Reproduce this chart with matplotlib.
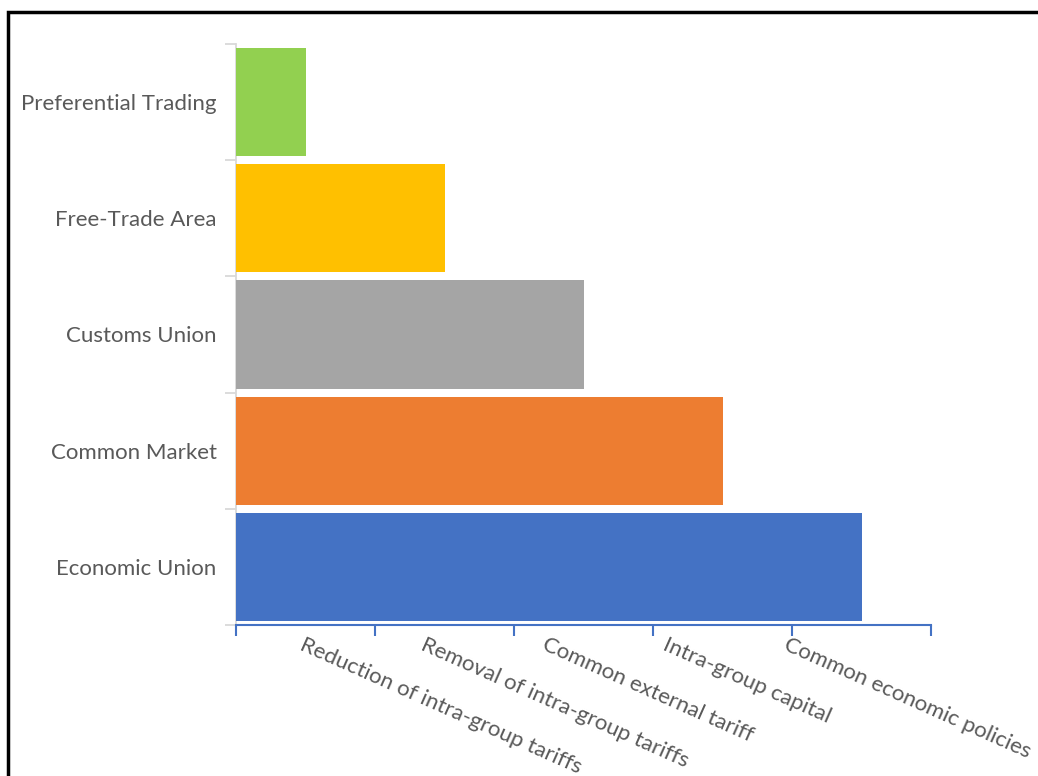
import matplotlib
matplotlib.use("Agg")
import matplotlib.pyplot as plt
from matplotlib.patches import Rectangle
import numpy as np

categories = ["Preferential Trading", "Free-Trade Area", "Customs Union", "Common Market", "Economic Union"]
values = [0.5, 1.5, 2.5, 3.5, 4.5]
colors = ["#92D050", "#FFC000", "#A5A5A5", "#ED7D31", "#4472C4"]
x_labels = ["Reduction of intra-group tariffs", "Removal of intra-group tariffs",
            "Common external tariff", "Intra-group capital", "Common economic policies"]
# anchor positions (data units) of the rotated x labels, as laid out in the reference
x_label_anchor = [0.50, 1.37, 2.24, 3.11, 3.98]

plt.rcParams['font.family'] = ['Lato', 'DejaVu Sans']

fig = plt.figure(figsize=(10.38, 7.76), dpi=100)
ax = fig.add_axes([236/1038, 1-625/776, (931-236)/1038, (625-44)/776])

y = np.arange(len(categories))
ax.barh(y, values, height=0.93, color=colors, zorder=3)
ax.set_xlim(0, 5)
ax.set_ylim(len(categories)-0.5, -0.5)

for s in ["top", "right"]:
    ax.spines[s].set_visible(False)
ax.spines["left"].set_color("#D9D9D9")
ax.spines["left"].set_linewidth(1.3)
ax.spines["bottom"].set_color("#4472C4")
ax.spines["bottom"].set_linewidth(1.5)

# y axis: ticks at boundaries, labels at centers
ax.set_yticks(np.arange(len(categories)+1)-0.5)
ax.set_yticklabels([])
ax.tick_params(axis="y", which="major", length=8, color="#D9D9D9", width=1.3)
ax.set_yticks(y, minor=True)
ax.set_yticklabels(categories, minor=True, fontsize=16, color="#595959")
ax.tick_params(axis="y", which="minor", length=0, pad=14)

# x axis: ticks at 0..5, rotated labels
ax.set_xticks(np.arange(6))
ax.set_xticklabels([])
ax.tick_params(axis="x", which="major", direction="out", length=8, color="#4472C4", width=1.5)
for xa, lab in zip(x_label_anchor, x_labels):
    ax.text(xa, -0.016, lab, transform=ax.get_xaxis_transform(),
            rotation=-24, rotation_mode="anchor", ha="left", va="top",
            fontsize=16, color="#595959")

# outer border
fig.patches.append(Rectangle((8/1038, -0.1), 1.2, 1-12/776+0.1, transform=fig.transFigure,
                             fill=False, edgecolor="black", linewidth=2.5))

fig.savefig("out.png", dpi=100)
